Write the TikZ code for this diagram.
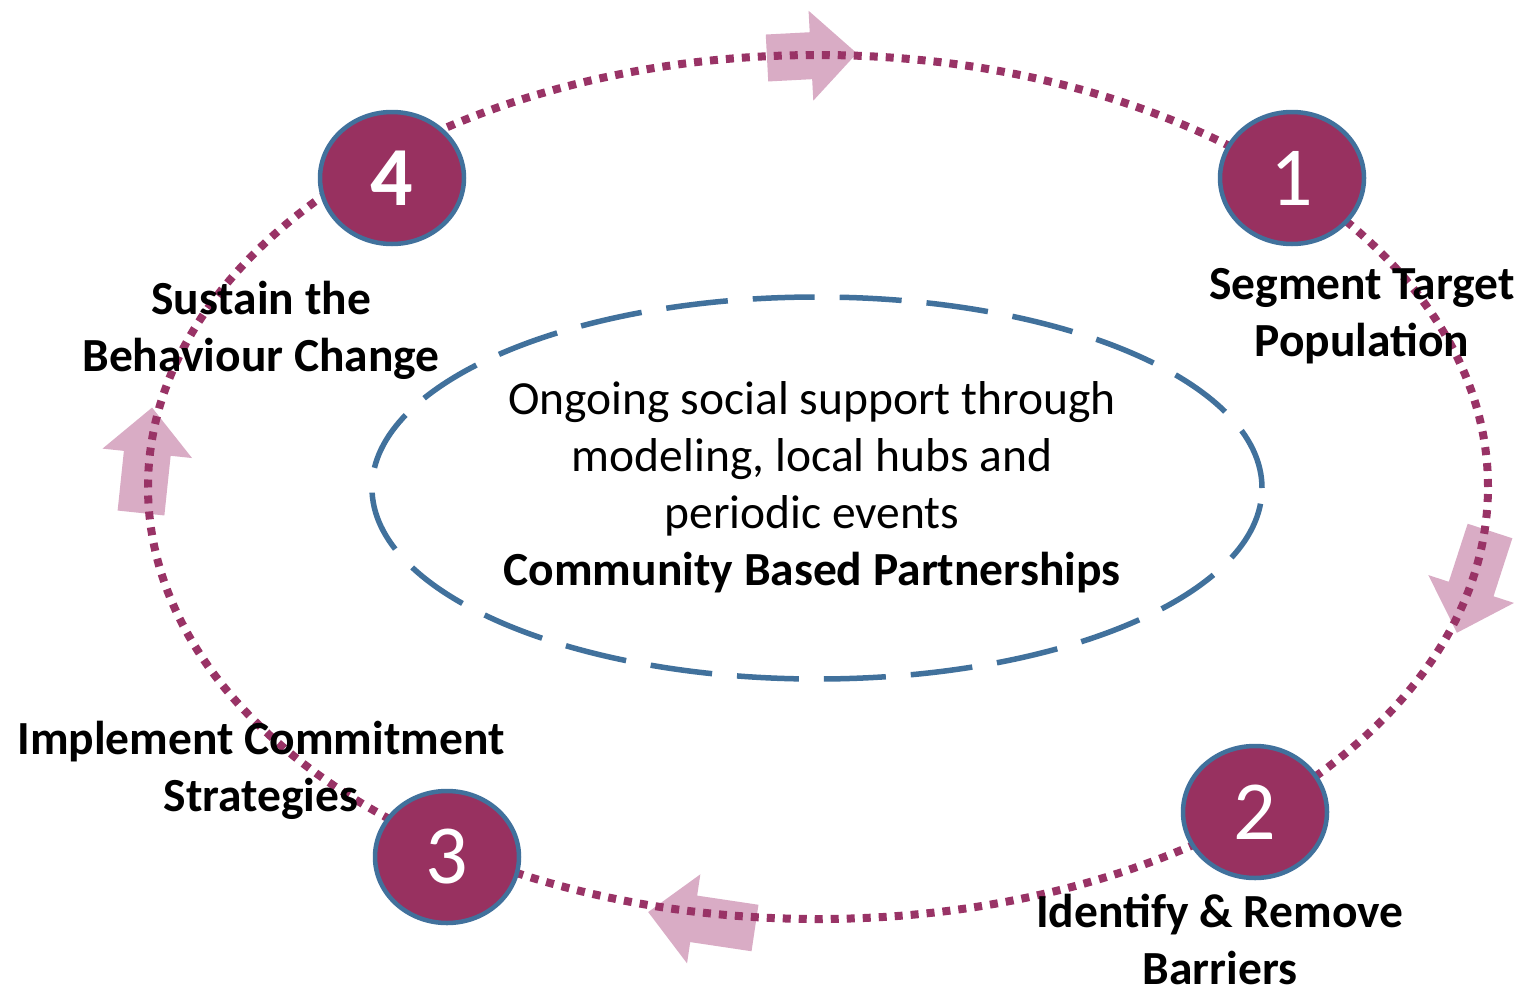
\documentclass[tikz,border=0pt]{standalone}
\usepackage{fontspec}
\setmainfont{Carlito}
\usetikzlibrary{shapes.geometric}
\definecolor{plum}{RGB}{152,49,96}
\definecolor{steel}{RGB}{65,113,156}
\definecolor{dotc}{RGB}{153,51,102}
\definecolor{pinkarrow}{RGB}{217,172,197}
\tikzset{
  stage/.style={ellipse, fill=plum, draw=steel, line width=4.5pt, minimum width=144pt, minimum height=132pt, inner sep=0pt, text=white, font=\fontsize{84}{84}\selectfont},
  lab/.style={align=center, inner sep=0pt, font=\bfseries\fontsize{47.5}{57}\selectfont},
  dotline/.style={draw=dotc, line width=8pt, dash pattern=on 8pt off 8pt},
  dashline/.style={draw=steel, line width=5.5pt, dash pattern=on 62pt off 25pt},
  pics/bigarrow/.style={code={\fill[pinkarrow] (0,-23.5) -- (#1-46,-23.5) -- (#1-46,-45) -- (#1,0) -- (#1-46,45) -- (#1-46,23.5) -- (0,23.5) -- cycle;}}
}
\begin{document}
\begin{tikzpicture}[x=1pt,y=-1pt]
\fill[white] (0,0) rectangle (1524,991);
\useasboundingbox (0,0) rectangle (1524,991);
% big pale arrows
\pic[rotate=3] at (767,58) {bigarrow=90};
\pic[rotate=252] at (1490,531) {bigarrow=107};
\pic[rotate=84] at (141,513) {bigarrow=106};
\pic[rotate=171.5] at (755,928) {bigarrow=108};
% dotted cycle
\node[ellipse, dotline, minimum width=1340pt, minimum height=864pt, inner sep=0pt] (cycle) at (818,487) {};
% central dashed ellipse
\node[ellipse, dashline, minimum width=890pt, minimum height=382pt, inner sep=0pt] (hub) at (817,488) {};
\node[align=center, font=\fontsize{47.5}{57}\selectfont] (hubtext) at (812,487) {Ongoing social support through\\modeling, local hubs and\\periodic events\\\textbf{Community Based Partnerships}};
% stage circles
\node[stage] (c1) at (1292,178) {1};
\node[stage] (c2) at (1255,812) {2};
\node[stage] (c3) at (447,857) {3};
\node[stage, font=\bfseries\fontsize{84}{84}\selectfont] (c4) at (392,178) {4};
% labels
\node[lab] (l1) at (1362,316) {Segment Target\\Population};
\node[lab] (l2) at (1220,939) {Identify \& Remove\\Barriers};
\node[lab] (l3) at (261,770) {Implement Commitment\\Strategies};
\node[lab] (l4) at (261,330) {Sustain the\\Behaviour Change};
\end{tikzpicture}
\end{document}
